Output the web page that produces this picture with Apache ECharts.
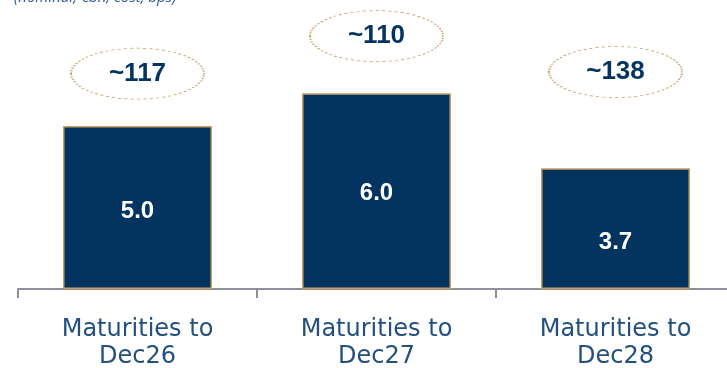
<!DOCTYPE html>
<html>
<head>
<meta charset="utf-8">
<script src="https://cdn.jsdelivr.net/npm/echarts@6/dist/echarts.min.js"></script>
<style>html,body{margin:0;padding:0;background:#fff}#c{width:727px;height:368px}</style>
</head>
<body>
<div id="c"></div>
<script>
// Data
const categories = ['Maturities to\nDec26', 'Maturities to\nDec27', 'Maturities to\nDec28'];
const maturities = [5.0, 6.0, 3.7];          // bar values (€bn)
const costBps = ['~117', '~110', '~138'];     // annotation values in ellipses
const subtitle = '(nominal, €bn; cost, bps)';

// Layout constants (not data)
const ellipseLevel = [6.6, 7.75, 6.65];      // vertical placement of annotation ellipses (axis units)
const barLabelOffset = [4, 2, 14];           // label offset inside bars (px)

const navy = '#02345f';
const gold = '#c9a064';
const boldFont = 'Arial, "Liberation Sans", Helvetica, sans-serif';

const chart = echarts.init(document.getElementById('c'), null, {renderer: 'canvas'});
chart.setOption({
  animation: false,
  graphic: [{
    type: 'text', left: 14, top: -10,
    style: {text: subtitle, font: 'italic 15px "Open Sans", sans-serif', fill: '#2f5a96'}
  }],
  grid: {left: 18, right: -8, top: 28, bottom: 79, containLabel: false, outerBoundsMode: 'none'},
  xAxis: {
    type: 'category',
    data: categories,
    axisLine: {lineStyle: {color: '#8e8f9c', width: 2}},
    axisTick: {show: true, length: 9, lineStyle: {color: '#8e8f9c', width: 2}},
    axisLabel: {
      color: '#23507f', fontSize: 24, fontFamily: '"DejaVu Sans", sans-serif', fontWeight: 'normal',
      lineHeight: 27, margin: 27, interval: 0
    }
  },
  yAxis: {type: 'value', min: 0, max: 8, show: false, splitLine: {show: false}},
  series: [{
    type: 'bar',
    barWidth: 149,
    data: maturities.map((v, i) => ({
      value: v,
      label: {offset: [0, barLabelOffset[i]]}
    })),
    itemStyle: {color: navy, borderColor: gold, borderWidth: 1.5},
    label: {
      show: true, position: 'inside', color: '#fff', fontSize: 24, fontWeight: 'bold',
      fontFamily: boldFont,
      formatter: p => p.value.toFixed(1)
    }
  }, {
    type: 'scatter',
    data: ellipseLevel.map((v, i) => ({value: [i, v], name: costBps[i]})),
    symbol: 'path://M0,26 A66,26 0 1,1 132,26 A66,26 0 1,1 0,26 Z',
    symbolSize: [133, 51],
    symbolKeepAspect: false,
    itemStyle: {color: 'rgba(255,255,255,0)', opacity: 1, borderColor: gold, borderWidth: 1.2, borderType: [2, 2]},
    label: {
      show: true, position: 'inside', color: navy, opacity: 1, fontSize: 26, fontWeight: 'bold',
      fontFamily: boldFont,
      formatter: p => p.name
    },
    emphasis: {disabled: true},
    z: 5
  }]
});
</script>
</body>
</html>
